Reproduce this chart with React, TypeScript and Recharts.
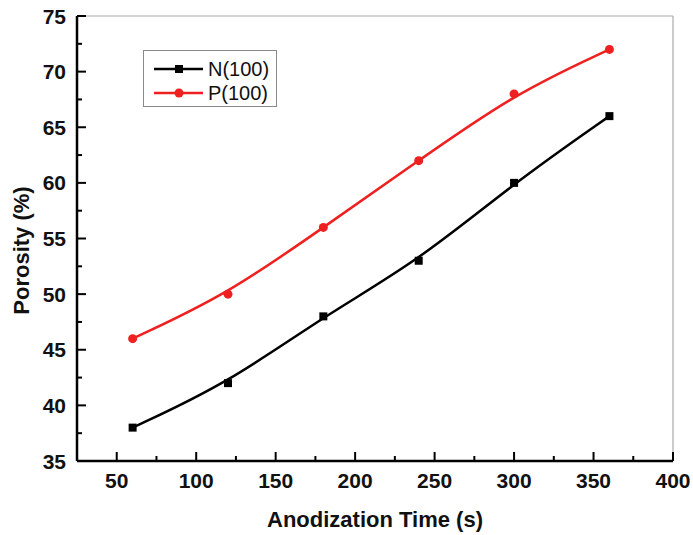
import React from "react";
import {
  LineChart,
  Line,
  XAxis,
  YAxis,
  ReferenceLine,
  Label,
} from "recharts";

const TIMES = [60, 120, 180, 240, 300, 360];
const N100 = [38, 42, 48, 53, 60, 66];
const P100 = [46, 50, 56, 62, 68, 72];

const X_TICKS = [50, 75, 100, 125, 150, 175, 200, 225, 250, 275, 300, 325, 350, 375, 400];
const Y_TICKS = [35, 37.5, 40, 42.5, 45, 47.5, 50, 52.5, 55, 57.5, 60, 62.5, 65, 67.5, 70, 72.5, 75];

const SERIES = [
  { key: "n", name: "N(100)", color: "#000000", marker: "square" },
  { key: "p", name: "P(100)", color: "#ee2020", marker: "circle" },
];

const data = TIMES.map((t, i) => ({ t, n: N100[i], p: P100[i] }));

const FONT = "'Liberation Sans', Arial, Helvetica, sans-serif";

function XTick({ x, y, payload }: any) {
  const major = payload.value % 50 === 0;
  return (
    <g>
      <line x1={x} x2={x} y1={y} y2={y - (major ? 9 : 5)} stroke="#000" strokeWidth={2} />
      {major && (
        <text x={x} y={y + 27} textAnchor="middle" fontFamily={FONT} fontWeight="bold" fontSize={21} fill="#111">
          {payload.value}
        </text>
      )}
    </g>
  );
}

function YTick({ x, y, payload }: any) {
  const major = payload.value % 5 === 0;
  return (
    <g>
      <line x1={x} x2={x + (major ? 9 : 5)} y1={y} y2={y} stroke="#000" strokeWidth={2} />
      {major && (
        <text x={x - 11} y={y + 7.5} textAnchor="end" fontFamily={FONT} fontWeight="bold" fontSize={21} fill="#111">
          {payload.value}
        </text>
      )}
    </g>
  );
}

function Marker({ type, cx, cy, color }: { type: string; cx: number; cy: number; color: string }) {
  if (type === "square") {
    return <rect x={cx - 4} y={cy - 4} width={8} height={8} fill={color} />;
  }
  return <circle cx={cx} cy={cy} r={4.5} fill={color} />;
}

// legend box sits over the plot, top-left
function LegendBox() {
  return (
    <div
      style={{
        position: "absolute",
        left: 143,
        top: 50,
        width: 134,
        height: 57,
        boxSizing: "border-box",
        border: "1.5px solid #8a8a8a",
        background: "#fff",
        fontFamily: FONT,
      }}
    >
      {SERIES.map((s, i) => (
        <div key={s.key} style={{ position: "absolute", left: 0, top: 7 + i * 24, height: 22, width: 134 }}>
          <svg width={60} height={22} style={{ position: "absolute", left: 8, top: 0 }}>
            <line x1={2} x2={51} y1={11} y2={11} stroke={s.color} strokeWidth={2.5} />
            <Marker type={s.marker} cx={27} cy={11} color={s.color} />
          </svg>
          <span style={{ position: "absolute", left: 64, top: 0, fontSize: 20, lineHeight: "22px", color: "#111" }}>
            {s.name}
          </span>
        </div>
      ))}
    </div>
  );
}

export default function App() {
  return (
    <div style={{ position: "absolute", left: 0, top: 0, width: 693, height: 535, background: "#fff" }}>
      <LineChart width={693} height={535} data={data} margin={{ top: 16, right: 20, left: 0, bottom: 0 }}>
        <XAxis
          dataKey="t"
          type="number"
          domain={[25, 400]}
          ticks={X_TICKS}
          interval={0}
          tickSize={0}
          tickMargin={0}
          tickLine={false}
          tick={<XTick />}
          height={74}
          axisLine={{ stroke: "#000", strokeWidth: 2.5 }}
        >
          <Label
            value="Anodization Time (s)"
            position="insideBottom"
            offset={8}
            style={{ fontFamily: FONT, fontWeight: "bold", fontSize: 22, fill: "#111" }}
          />
        </XAxis>
        <YAxis
          type="number"
          domain={[35, 75]}
          ticks={Y_TICKS}
          interval={0}
          tickSize={0}
          tickMargin={0}
          tickLine={false}
          tick={<YTick />}
          width={77}
          axisLine={{ stroke: "#000", strokeWidth: 2.5 }}
          label={({ viewBox }: any) => (
            <text
              x={21}
              y={viewBox.y + viewBox.height / 2 + 12}
              transform={`rotate(-90 21 ${viewBox.y + viewBox.height / 2 + 12})`}
              textAnchor="middle"
              dominantBaseline="central"
              fontFamily={FONT}
              fontWeight="bold"
              fontSize={22}
              fill="#111"
            >
              Porosity (%)
            </text>
          )}
        />
        <ReferenceLine y={75} stroke="#aaa" strokeWidth={1.2} />
        <ReferenceLine x={400} stroke="#aaa" strokeWidth={1.2} />
        {SERIES.map((s) => (
          <Line
            key={s.key}
            dataKey={s.key}
            name={s.name}
            type="basis"
            stroke={s.color}
            strokeWidth={2.5}
            isAnimationActive={false}
            dot={(props: any) => (
              <Marker key={`${s.key}-${props.index}`} type={s.marker} cx={props.cx} cy={props.cy} color={s.color} />
            )}
            activeDot={false}
          />
        ))}
      </LineChart>
      <LegendBox />
    </div>
  );
}
